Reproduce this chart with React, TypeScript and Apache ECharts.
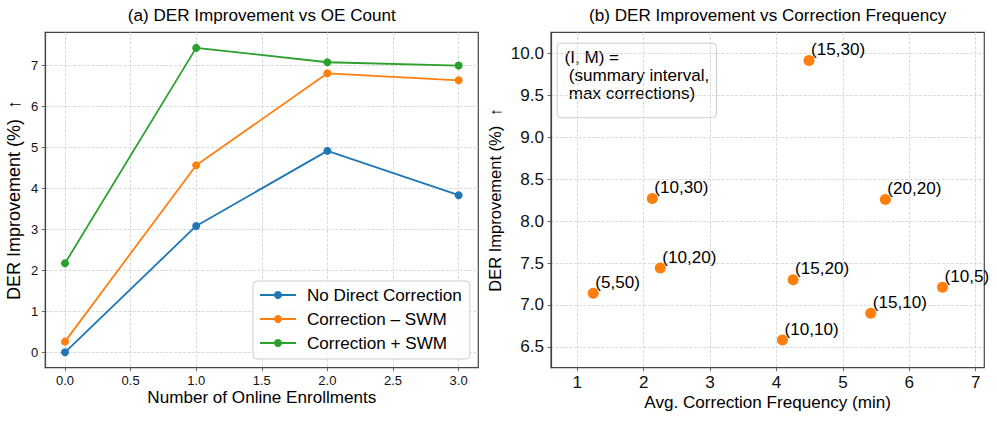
import React, { useEffect, useRef } from "react";
import * as echarts from "echarts";

// ---- Data ----
const oeCounts = [0, 1, 2, 3];
const noDirectCorrection = [0.0, 3.08, 4.91, 3.83];
const correctionMinusSwm = [0.26, 4.56, 6.8, 6.63];
const correctionPlusSwm = [2.17, 7.42, 7.07, 6.99];

const configLabels = ["(15,30)", "(10,30)", "(20,20)", "(10,20)", "(5,50)", "(15,20)", "(10,5)", "(15,10)", "(10,10)"];
const avgCorrectionFreq = [4.49, 2.13, 5.64, 2.25, 1.24, 4.25, 6.5, 5.42, 4.09];
const derImprovement = [9.92, 8.27, 8.26, 7.44, 7.14, 7.3, 7.21, 6.9, 6.58];

const xTicksA = [0, 0.5, 1, 1.5, 2, 2.5, 3];
const yTicksA = [0, 1, 2, 3, 4, 5, 6, 7];
const xTicksB = [1, 2, 3, 4, 5, 6, 7];
const yTicksB = [6.5, 7, 7.5, 8, 8.5, 9, 9.5, 10];

const FONT = "Liberation Sans, Arial, Helvetica, sans-serif";
const BLUE = "#1f77b4";
const ORANGE = "#ff7f0e";
const GREEN = "#2ca02c";
const SPINE = "#444444";
const BIG = 17.1;

const gridLine = { show: true, lineStyle: { type: [3, 1.6], color: "#cfcfcf", width: 0.8 } };

function makeX(gridIndex: number, min: number, max: number, ticks: number[], fmt: (v: number) => string, fontSize: number, name: string, nameGap: number) {
  return {
    gridIndex,
    type: "value",
    min,
    max,
    name,
    nameLocation: "middle",
    nameGap,
    nameMoveOverlap: false,
    nameTextStyle: { fontFamily: FONT, fontSize: BIG, color: "#000" },
    axisLine: { show: true, onZero: false, lineStyle: { color: SPINE, width: 1.2 } },
    axisTick: { show: true, customValues: ticks, length: 3.5, lineStyle: { color: SPINE, width: 0.8 } },
    axisLabel: { show: true, customValues: ticks, formatter: (v: number) => fmt(v), fontFamily: FONT, fontSize, color: "#111", margin: 6, showMinLabel: true, showMaxLabel: true },
    splitLine: gridLine,
  };
}

function makeY(gridIndex: number, min: number, max: number, ticks: number[], fmt: (v: number) => string, fontSize: number, name: string, nameGap: number, nameSize: number) {
  return {
    gridIndex,
    type: "value",
    min,
    max,
    name,
    nameLocation: "middle",
    nameRotate: 90,
    nameGap,
    nameMoveOverlap: false,
    nameTextStyle: { fontFamily: FONT, fontSize: nameSize, color: "#000" },
    axisLine: { show: true, onZero: false, lineStyle: { color: SPINE, width: 1.2 } },
    axisTick: { show: true, customValues: ticks, length: 3.5, lineStyle: { color: SPINE, width: 0.8 } },
    axisLabel: { show: true, customValues: ticks, formatter: (v: number) => fmt(v), fontFamily: FONT, fontSize, color: "#111", margin: 7 },
    splitLine: gridLine,
  };
}

export default function App() {
  const ref = useRef<HTMLDivElement>(null);

  useEffect(() => {
    if (!ref.current) return;
    const chart = echarts.init(ref.current, undefined, { renderer: "svg" });

    const lineSeries = (name: string, data: number[], color: string) => ({
      name,
      type: "line",
      xAxisIndex: 0,
      yAxisIndex: 0,
      data: oeCounts.map((x, i) => [x, data[i]]),
      symbol: "circle",
      symbolSize: 8,
      lineStyle: { color, width: 1.8 },
      itemStyle: { color },
      z: 3,
    });

    const option: any = {
      animation: false,
      backgroundColor: "#ffffff",
      textStyle: { fontFamily: FONT },
      title: [
        {
          text: "(a) DER Improvement vs OE Count",
          left: 261.8,
          top: 7,
          textAlign: "center",
          padding: 0,
          textStyle: { fontFamily: FONT, fontSize: BIG, fontWeight: "normal", color: "#000" },
        },
        {
          text: "(b) DER Improvement vs Correction Frequency",
          left: 767.7,
          top: 7,
          textAlign: "center",
          padding: 0,
          textStyle: { fontFamily: FONT, fontSize: BIG, fontWeight: "normal", color: "#000" },
        },
      ],
      grid: [
        { left: 45.3, top: 32.3, width: 433, height: 335.4, show: true, borderColor: SPINE, borderWidth: 1.2, backgroundColor: "transparent", containLabel: false, outerBoundsMode: "none" },
        { left: 551, top: 32.3, width: 433.3, height: 335.4, show: true, borderColor: SPINE, borderWidth: 1.2, backgroundColor: "transparent", containLabel: false, outerBoundsMode: "none" },
      ],
      xAxis: [
        makeX(0, -0.15, 3.15, xTicksA, (v) => v.toFixed(1), 13, "Number of Online Enrollments", 21),
        makeX(1, 0.604, 7.13, xTicksB, (v) => String(Math.round(v)), BIG, "Avg. Correction Frequency (min)", 26),
      ],
      yAxis: [
        makeY(0, -0.375, 7.8, yTicksA, (v) => String(Math.round(v)), 13, "DER Improvement (%)  \u2191", 22, 18),
        makeY(1, 6.25, 10.256, yTicksB, (v) => v.toFixed(1), BIG, "DER Improvement (%)  \u2191", 48, 16.5),
      ],
      legend: {
        left: 253,
        top: 281,
        orient: "vertical",
        itemWidth: 36,
        itemHeight: 10,
        itemGap: 6,
        padding: [5, 8, 7, 6],
        backgroundColor: "rgba(255,255,255,0.8)",
        borderColor: "#cccccc",
        borderWidth: 1,
        borderRadius: 4,
        textStyle: { fontFamily: FONT, fontSize: BIG, color: "#000", lineHeight: 18, padding: [0, 0, 0, 6] },
        data: ["No Direct Correction", "Correction \u2013 SWM", "Correction + SWM"],
      },
      series: [
        lineSeries("No Direct Correction", noDirectCorrection, BLUE),
        lineSeries("Correction \u2013 SWM", correctionMinusSwm, ORANGE),
        lineSeries("Correction + SWM", correctionPlusSwm, GREEN),
        {
          name: "configs",
          type: "scatter",
          xAxisIndex: 1,
          yAxisIndex: 1,
          data: avgCorrectionFreq.map((x, i) => [x, derImprovement[i]]),
          symbol: "circle",
          symbolSize: 11,
          itemStyle: { color: ORANGE, opacity: 1 },
          label: {
            show: true,
            position: "right",
            distance: 0,
            offset: [-3.5, -11],
            formatter: (p: any) => configLabels[p.dataIndex],
            fontFamily: FONT,
            fontSize: BIG,
            color: "#000",
          },
          z: 3,
        },
      ],
      graphic: [
        {
          type: "group",
          left: 556.7,
          top: 42.7,
          z: 100,
          children: [
            {
              type: "rect",
              shape: { x: 0, y: 0, width: 159.3, height: 74.6, r: 4 },
              style: { fill: "rgba(255,255,255,0.8)", stroke: "#cccccc", lineWidth: 1 },
            },
            {
              type: "text",
              x: 7.3,
              y: 14,
              style: { text: "(I, M) =", font: `${BIG}px ${FONT}`, fill: "#000", verticalAlign: "middle" },
            },
            {
              type: "text",
              x: 11.6,
              y: 32.3,
              style: { text: "(summary interval,", font: `${BIG}px ${FONT}`, fill: "#000", verticalAlign: "middle" },
            },
            {
              type: "text",
              x: 11.6,
              y: 50,
              style: { text: "max corrections)", font: `${BIG}px ${FONT}`, fill: "#000", verticalAlign: "middle" },
            },
          ],
        },
      ],
    };

    chart.setOption(option);
    return () => chart.dispose();
  }, []);

  return <div ref={ref} style={{ position: "fixed", left: 0, top: 0, width: 997, height: 421 }} />;
}
